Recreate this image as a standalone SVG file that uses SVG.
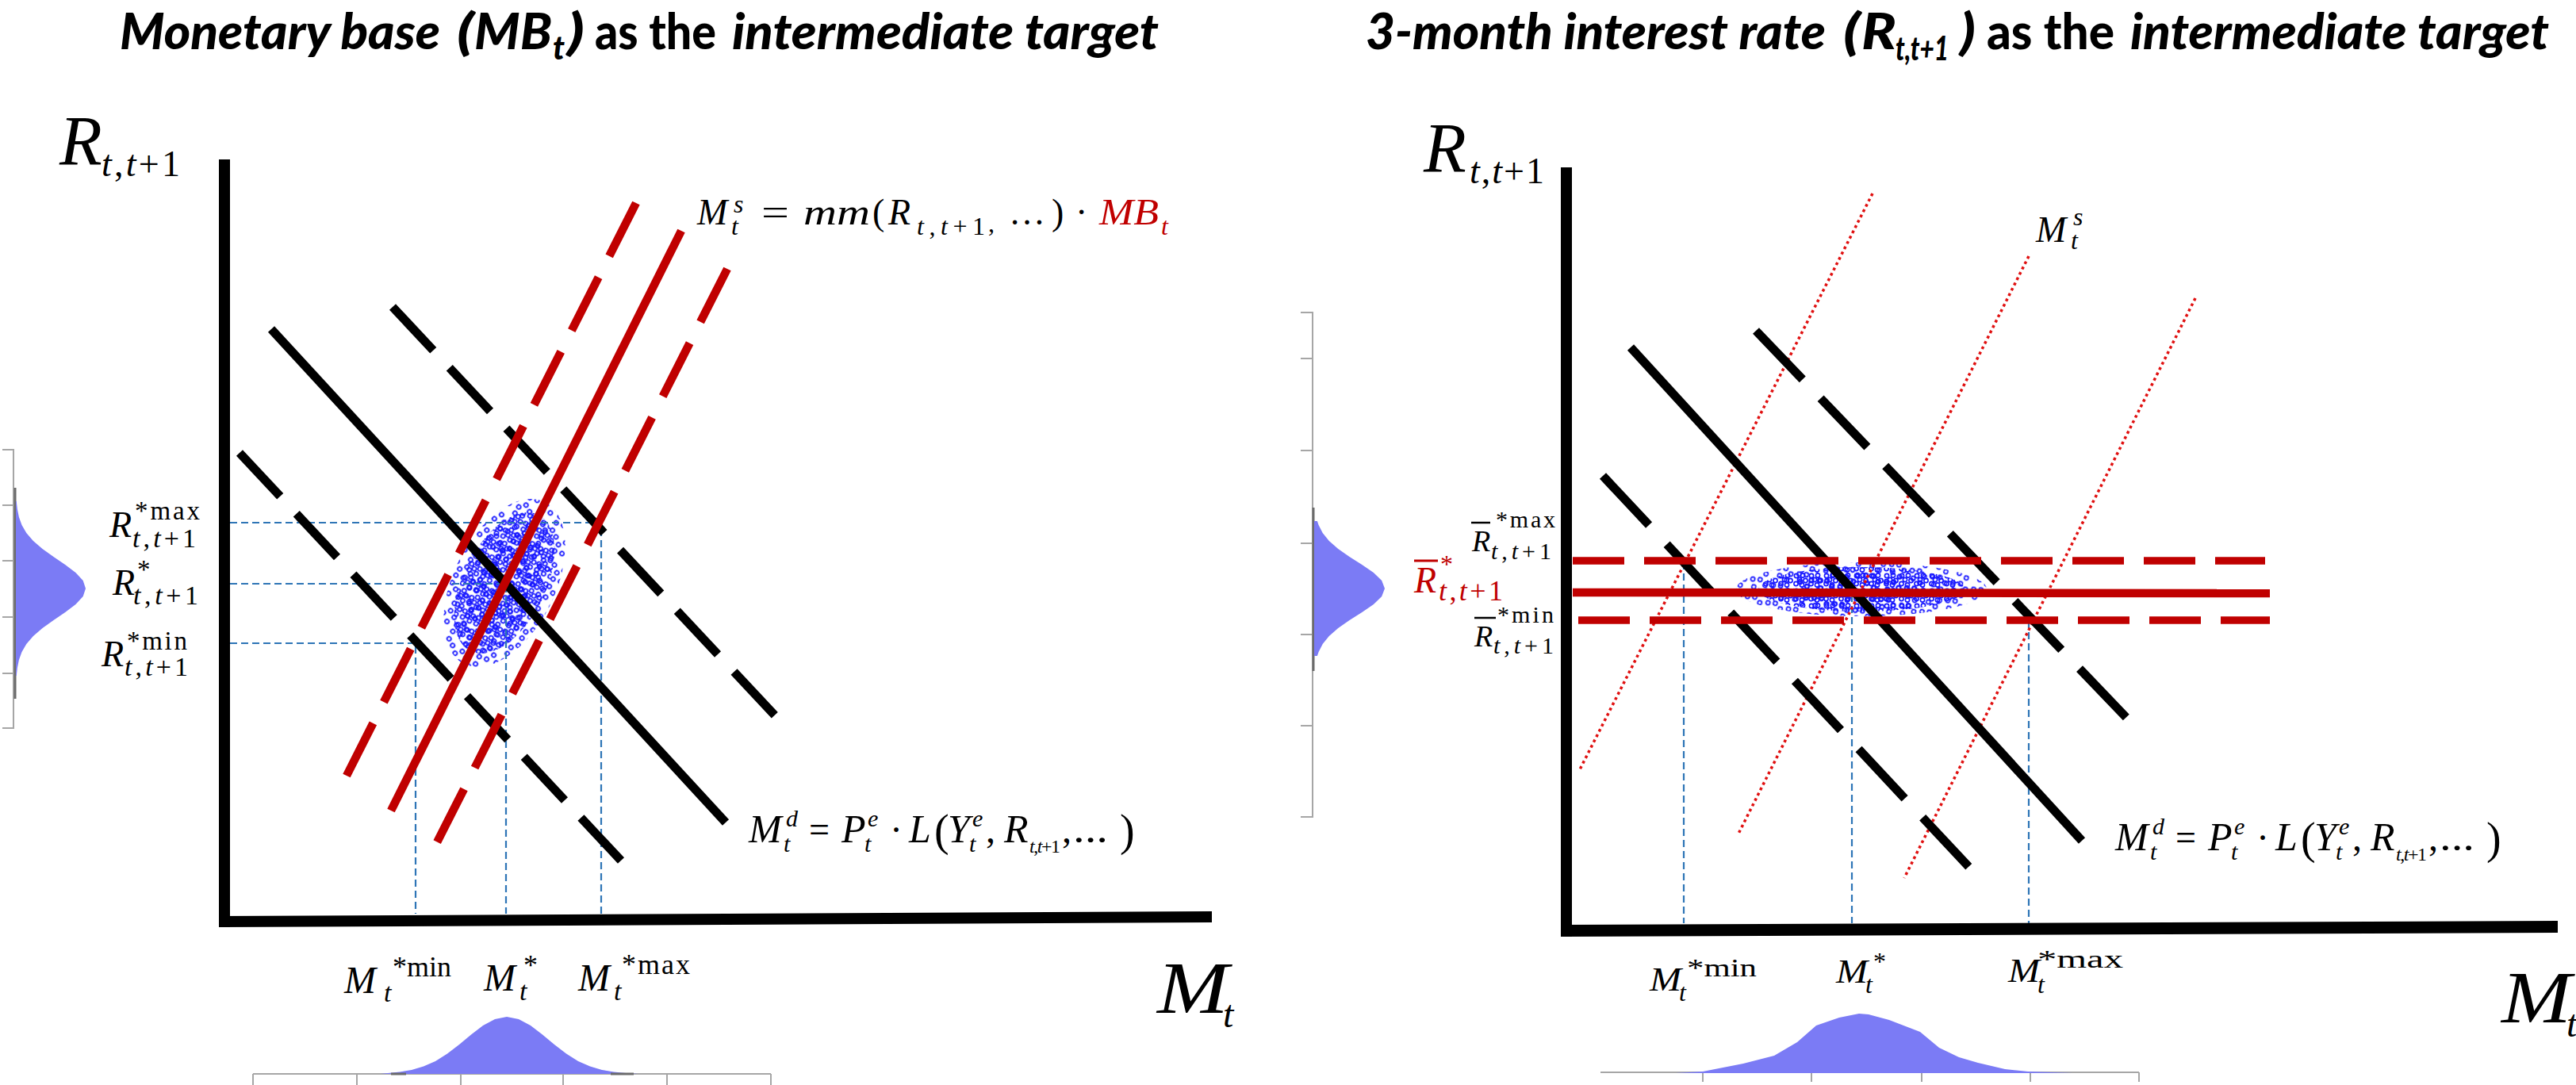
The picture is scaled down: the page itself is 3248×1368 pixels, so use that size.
<svg xmlns="http://www.w3.org/2000/svg" width="3248" height="1368" viewBox="0 0 3248 1368">
<defs>
<style>
.blk{stroke:#000;stroke-width:11;fill:none}
.dl{stroke-dasharray:75 30}
.dr{stroke-dasharray:85 33}
.red{stroke:#c00000;stroke-width:10.5;fill:none}
.hd{stroke-dasharray:65 25}
.dot{stroke:#e01010;stroke-width:3.5;stroke-dasharray:3.5 4;fill:none}
.guide{stroke:#2e75b6;stroke-width:2.2;stroke-dasharray:9 5;fill:none}
.dist{fill:#7b7bf5}
.gax{stroke:#a6a6a6;stroke-width:2;fill:none}
.gdk{stroke:#6b6b6b;stroke-width:3;fill:none}
.ser{font-family:"Liberation Serif","Times New Roman",serif;fill:#000}
.it{font-style:italic}
.rd{fill:#c00000}
.ttl{font-family:Lato,"Open Sans",sans-serif;font-weight:900;font-size:63px;fill:#000}
.sub{font-size:42px}
</style>
<pattern id="dotA" width="19" height="19" patternUnits="userSpaceOnUse">
<g fill="none" stroke="#1515ff" stroke-width="1.6">
<circle cx="4" cy="4" r="2.6"/><circle cx="12" cy="3.5" r="2.6"/><circle cx="15.5" cy="10" r="2.6"/>
<circle cx="8" cy="9" r="2.6"/><circle cx="3.5" cy="14" r="2.6"/><circle cx="11" cy="15.5" r="2.6"/>
</g>
</pattern>
<pattern id="dotB" width="27" height="23" patternUnits="userSpaceOnUse" patternTransform="rotate(17)">
<g fill="none" stroke="#1515ff" stroke-width="1.6">
<circle cx="5" cy="6" r="2.6"/><circle cx="14" cy="4" r="2.6"/><circle cx="22" cy="9" r="2.6"/>
<circle cx="9" cy="15" r="2.6"/><circle cx="19" cy="18" r="2.6"/>
</g>
</pattern>
</defs>
<rect width="3248" height="1368" fill="#fff"/>

<!-- ========== TITLES ========== -->
<g id="title-left">
<text class="ttl it" x="151" y="62" textLength="404" lengthAdjust="spacingAndGlyphs">Monetary base</text>
<text class="ttl it" x="576" y="62" textLength="22" lengthAdjust="spacingAndGlyphs">(</text>
<text class="ttl it" x="598" y="62" textLength="98" lengthAdjust="spacingAndGlyphs">MB</text>
<text class="ttl it sub" x="697" y="75" textLength="15" lengthAdjust="spacingAndGlyphs">t</text>
<text class="ttl it" x="715" y="62" textLength="22" lengthAdjust="spacingAndGlyphs">)</text>
<text class="ttl" x="750" y="62" textLength="153" lengthAdjust="spacingAndGlyphs">as the</text>
<text class="ttl it" x="923" y="62" textLength="538" lengthAdjust="spacingAndGlyphs">intermediate target</text>
</g>
<g id="title-right">
<text class="ttl it" x="1722" y="62" textLength="580" lengthAdjust="spacingAndGlyphs">3-month interest rate</text>
<text class="ttl it" x="2324" y="62" textLength="22" lengthAdjust="spacingAndGlyphs">(</text>
<text class="ttl it" x="2347" y="62" textLength="44" lengthAdjust="spacingAndGlyphs">R</text>
<text class="ttl it sub" x="2390" y="76" textLength="67" lengthAdjust="spacingAndGlyphs">t,t+1</text>
<text class="ttl it" x="2471" y="62" textLength="20" lengthAdjust="spacingAndGlyphs">)</text>
<text class="ttl" x="2505" y="62" textLength="161" lengthAdjust="spacingAndGlyphs">as the</text>
<text class="ttl it" x="2686" y="62" textLength="528" lengthAdjust="spacingAndGlyphs">intermediate target</text>
</g>

<!-- ========== LEFT PANEL ========== -->
<g id="left-dist-r">
<path class="gax" d="M3,567 H17 V918 H3 M3,637 H17 M3,707 H17 M3,778 H17 M3,849 H17"/>
<path class="gdk" d="M19,615 V881"/>
<path class="dist" d="M20,632 L20.8,632 L21.9,642 L23.9,652 L27.5,662 L33.3,672 L41.9,682 L53.5,692 L67.5,702 L82.2,712 L95.4,722 L104.7,732 L108,742 L104.7,752 L95.4,762 L82.2,772 L67.5,782 L53.5,792 L41.9,802 L33.3,812 L27.5,822 L23.9,832 L21.9,842 L20.8,852 L20,852 Z"/>
</g>
<g id="left-dist-m">
<path class="gax" d="M319,1354 H972 M319,1354 V1368 M450,1354 V1368 M581,1354 V1368 M710,1354 V1368 M841,1354 V1368 M972,1354 V1368"/>
<path class="dist" d="M480,1354 L489,1352.9 L504,1351.5 L519,1349 L534,1344.6 L549,1337.9 L564,1328.6 L579,1317 L594,1304.5 L609,1293 L624,1284.9 L639,1282 L654,1284.9 L669,1293 L684,1304.5 L699,1317 L714,1328.6 L729,1337.9 L744,1344.6 L759,1349 L774,1351.5 L789,1352.9 L805,1354 Z"/>
<path class="gdk" d="M493,1354 H512 M770,1354 H799"/>
</g>

<g id="left-cloud" transform="rotate(-63.4 636 735)">
<ellipse cx="636" cy="735" rx="114" ry="64" fill="url(#dotB)"/>
<ellipse cx="636" cy="735" rx="96" ry="52" fill="url(#dotA)"/>
<ellipse cx="636" cy="735" rx="70" ry="38" fill="url(#dotB)"/>
</g>

<g id="left-guides">
<path class="guide" d="M290,659 H758 V1152 M290,736 H638 V1152 M290,811 H524 V1152"/>
</g>

<g id="left-demand">
<line class="blk" x1="342" y1="415" x2="915" y2="1037"/>
<line class="blk dl" x1="302" y1="571" x2="783" y2="1085"/>
<line class="blk dl" x1="495" y1="387" x2="978" y2="903"/>
</g>
<g id="left-supply">
<line class="red" x1="859" y1="291" x2="493" y2="1022"/>
<line class="red dl" x1="802" y1="256" x2="437" y2="978"/>
<line class="red dl" x1="917" y1="339" x2="551" y2="1062"/>
</g>

<g id="left-axes">
<rect x="276" y="201" width="14" height="968"/>
<polygon points="276,1155 1528,1149 1528,1163 276,1169"/>
</g>

<g id="left-ylabel">
<text class="ser it" x="75" y="207" font-size="88">R</text>
<text class="ser" x="128" y="222" font-size="46" textLength="99"><tspan class="it">t</tspan>,<tspan class="it">t</tspan>+1</text>
</g>
<g id="left-xlabel">
<text class="ser it" x="1459" y="1277" font-size="94" textLength="90" lengthAdjust="spacingAndGlyphs">M</text>
<text class="ser it" x="1542" y="1295" font-size="48">t</text>
</g>

<g id="left-ms-eq">
<text class="ser it" x="879" y="283" font-size="46">M</text>
<text class="ser it" x="925" y="268" font-size="32">s</text>
<text class="ser it" x="922" y="296" font-size="32">t</text>
<text class="ser" x="960" y="283" font-size="46" textLength="35" lengthAdjust="spacingAndGlyphs">=</text>
<text class="ser it" x="1013" y="283" font-size="46" textLength="84" lengthAdjust="spacingAndGlyphs">mm</text>
<text class="ser" x="1100" y="283" font-size="46">(</text>
<text class="ser it" x="1120" y="283" font-size="46">R</text>
<text class="ser" x="1156" y="296" font-size="32" textLength="86"><tspan class="it">t</tspan>,<tspan class="it">t</tspan>+1</text>
<text class="ser" x="1246" y="292" font-size="32">,</text>
<text class="ser" x="1272" y="283" font-size="46" textLength="51">…</text>
<text class="ser" x="1326" y="283" font-size="46">)</text>
<text class="ser" x="1356" y="283" font-size="46">·</text>
<text class="ser it rd" x="1386" y="283" font-size="46" textLength="75" lengthAdjust="spacingAndGlyphs">MB</text>
<text class="ser it rd" x="1464" y="296" font-size="32">t</text>
</g>

<g id="left-md-eq">
<text class="ser it" x="944" y="1062" font-size="50">M</text>
<text class="ser it" x="991" y="1042" font-size="30">d</text>
<text class="ser it" x="988" y="1074" font-size="30">t</text>
<text class="ser" x="1020" y="1062" font-size="48" textLength="26" lengthAdjust="spacingAndGlyphs">=</text>
<text class="ser it" x="1061" y="1062" font-size="50">P</text>
<text class="ser it" x="1094" y="1042" font-size="30">e</text>
<text class="ser it" x="1090" y="1074" font-size="30">t</text>
<text class="ser" x="1122" y="1062" font-size="48">·</text>
<text class="ser it" x="1146" y="1062" font-size="50">L</text>
<text class="ser" x="1178" y="1066" font-size="56">(</text>
<text class="ser it" x="1195" y="1062" font-size="50">Y</text>
<text class="ser it" x="1226" y="1042" font-size="30">e</text>
<text class="ser it" x="1222" y="1074" font-size="30">t</text>
<text class="ser" x="1243" y="1062" font-size="48">,</text>
<text class="ser it" x="1266" y="1062" font-size="50">R</text>
<text class="ser" x="1298" y="1075" font-size="24" textLength="39"><tspan class="it">t</tspan>,<tspan class="it">t</tspan>+1</text>
<text class="ser" x="1339" y="1062" font-size="48">,</text>
<text class="ser" x="1353" y="1062" font-size="48" textLength="44" lengthAdjust="spacingAndGlyphs">...</text>
<text class="ser" x="1412" y="1066" font-size="56">)</text>
</g>

<g id="left-rlabels">
<text class="ser it" x="138" y="677" font-size="46">R</text>
<text class="ser" x="170" y="655" font-size="33" textLength="82">*max</text>
<text class="ser" x="167" y="690" font-size="34" textLength="80"><tspan class="it">t</tspan>,<tspan class="it">t</tspan>+1</text>
<text class="ser it" x="142" y="750" font-size="46">R</text>
<text class="ser" x="173" y="729" font-size="33">*</text>
<text class="ser" x="168" y="762" font-size="34" textLength="82"><tspan class="it">t</tspan>,<tspan class="it">t</tspan>+1</text>
<text class="ser it" x="128" y="840" font-size="46">R</text>
<text class="ser" x="160" y="819" font-size="33" textLength="76">*min</text>
<text class="ser" x="157" y="852" font-size="34" textLength="80"><tspan class="it">t</tspan>,<tspan class="it">t</tspan>+1</text>
</g>
<g id="left-mlabels">
<text class="ser it" x="434" y="1252" font-size="48">M</text>
<text class="ser" x="495" y="1231" font-size="36" textLength="74">*min</text>
<text class="ser it" x="484" y="1263" font-size="34">t</text>
<text class="ser it" x="610" y="1249" font-size="48">M</text>
<text class="ser" x="660" y="1229" font-size="36">*</text>
<text class="ser it" x="655" y="1261" font-size="34">t</text>
<text class="ser it" x="729" y="1249" font-size="48">M</text>
<text class="ser" x="784" y="1228" font-size="36" textLength="86">*max</text>
<text class="ser it" x="774" y="1261" font-size="34">t</text>
</g>

<!-- ========== RIGHT PANEL ========== -->
<g id="right-dist-r">
<path class="gax" d="M1640,394 H1655 V1030 H1640 M1640,452 H1655 M1640,568 H1655 M1640,685 H1655 M1640,800 H1655 M1640,915 H1655"/>
<path class="gdk" d="M1656,640 V846"/>
<path class="dist" d="M1657,657 L1660.9,657 L1662.6,662 L1667.7,672 L1675.8,682 L1687.2,692 L1701.5,702 L1717.3,712 L1731.9,722 L1742.2,732 L1746,742 L1742.2,752 L1731.9,762 L1717.3,772 L1701.5,782 L1687.2,792 L1675.8,802 L1667.7,812 L1662.6,822 L1660.9,827 L1657,827 Z"/>
</g>
<g id="right-dist-m">
<path class="gax" d="M2018,1352 H2697 M2147,1352 V1364 M2284,1352 V1364 M2423,1352 V1364 M2560,1352 V1364 M2697,1352 V1364"/>
<path class="dist" d="M2113,1353 L2147,1351 L2198,1341 L2237,1331 L2266,1314 L2290,1293 L2319,1283 L2344,1278 L2356,1279 L2382,1286 L2421,1301 L2445,1321 L2470,1333 L2494,1340 L2528,1348 L2557,1351 L2613,1353 Z"/>
</g>

<g id="right-cloud">
<ellipse cx="2347" cy="743" rx="158" ry="34" fill="url(#dotB)"/>
<ellipse cx="2347" cy="743" rx="130" ry="28" fill="url(#dotA)"/>
<ellipse cx="2340" cy="743" rx="90" ry="22" fill="url(#dotB)"/>
</g>

<g id="right-guides">
<path class="guide" d="M2123,709 V1164 M2335,750 V1164 M2558,783 V1164"/>
</g>

<g id="right-supply-dotted">
<line class="dot" x1="2361" y1="244" x2="1991" y2="972"/>
<line class="dot" x1="2558" y1="323" x2="2191" y2="1053"/>
<line class="dot" x1="2768" y1="376" x2="2401" y2="1107"/>
</g>
<g id="right-demand">
<line class="blk" x1="2056" y1="438" x2="2625" y2="1060"/>
<line class="blk dr" x1="2021" y1="600" x2="2489" y2="1100"/>
<line class="blk dr" x1="2214" y1="417" x2="2687" y2="911"/>
</g>
<g id="right-target">
<line class="red hd" x1="1983" y1="707" x2="2856" y2="707" style="stroke-width:9.5"/>
<line class="red" x1="1983" y1="747" x2="2862" y2="748"/>
<line class="red hd" x1="1990" y1="782" x2="2862" y2="782" style="stroke-width:9.5"/>
</g>

<g id="right-axes">
<rect x="1968" y="211" width="14" height="970"/>
<polygon points="1968,1166 3225,1161 3225,1176 1968,1181"/>
</g>

<g id="right-ylabel">
<text class="ser it" x="1795" y="216" font-size="88">R</text>
<text class="ser" x="1853" y="231" font-size="46" textLength="94"><tspan class="it">t</tspan>,<tspan class="it">t</tspan>+1</text>
</g>
<g id="right-xlabel">
<text class="ser it" x="3154" y="1289" font-size="94" textLength="88" lengthAdjust="spacingAndGlyphs">M</text>
<text class="ser it" x="3236" y="1307" font-size="48">t</text>
</g>
<g id="right-ms-label">
<text class="ser it" x="2567" y="305" font-size="46">M</text>
<text class="ser it" x="2614" y="284" font-size="32">s</text>
<text class="ser it" x="2611" y="314" font-size="32">t</text>
</g>
<g id="right-md-eq" transform="translate(1723,10)">
<text class="ser it" x="944" y="1062" font-size="50">M</text>
<text class="ser it" x="991" y="1042" font-size="30">d</text>
<text class="ser it" x="988" y="1074" font-size="30">t</text>
<text class="ser" x="1020" y="1062" font-size="48" textLength="26" lengthAdjust="spacingAndGlyphs">=</text>
<text class="ser it" x="1061" y="1062" font-size="50">P</text>
<text class="ser it" x="1094" y="1042" font-size="30">e</text>
<text class="ser it" x="1090" y="1074" font-size="30">t</text>
<text class="ser" x="1122" y="1062" font-size="48">·</text>
<text class="ser it" x="1146" y="1062" font-size="50">L</text>
<text class="ser" x="1178" y="1066" font-size="56">(</text>
<text class="ser it" x="1195" y="1062" font-size="50">Y</text>
<text class="ser it" x="1226" y="1042" font-size="30">e</text>
<text class="ser it" x="1222" y="1074" font-size="30">t</text>
<text class="ser" x="1243" y="1062" font-size="48">,</text>
<text class="ser it" x="1266" y="1062" font-size="50">R</text>
<text class="ser" x="1298" y="1075" font-size="24" textLength="39"><tspan class="it">t</tspan>,<tspan class="it">t</tspan>+1</text>
<text class="ser" x="1339" y="1062" font-size="48">,</text>
<text class="ser" x="1353" y="1062" font-size="48" textLength="44" lengthAdjust="spacingAndGlyphs">...</text>
<text class="ser" x="1412" y="1066" font-size="56">)</text>
</g>

<g id="right-rlabels">
<line x1="1855" y1="659" x2="1879" y2="659" stroke="#000" stroke-width="2.5"/>
<text class="ser" x="1886" y="665" font-size="30" textLength="75">*max</text>
<text class="ser it" x="1856" y="695" font-size="38">R</text>
<text class="ser" x="1880" y="705" font-size="30" textLength="76"><tspan class="it">t</tspan>,<tspan class="it">t</tspan>+1</text>
<line x1="1783" y1="707" x2="1813" y2="707" stroke="#c00000" stroke-width="3"/>
<text class="ser rd" x="1816" y="722" font-size="32">*</text>
<text class="ser it rd" x="1783" y="747" font-size="46">R</text>
<text class="ser rd" x="1814" y="757" font-size="36" textLength="81"><tspan class="it">t</tspan>,<tspan class="it">t</tspan>+1</text>
<line x1="1859" y1="779" x2="1886" y2="779" stroke="#000" stroke-width="2.5"/>
<text class="ser" x="1888" y="785" font-size="30" textLength="71">*min</text>
<text class="ser it" x="1859" y="815" font-size="38">R</text>
<text class="ser" x="1883" y="824" font-size="30" textLength="76"><tspan class="it">t</tspan>,<tspan class="it">t</tspan>+1</text>
</g>
<g id="right-mlabels">
<text class="ser it" x="2080" y="1249" font-size="42" textLength="40" lengthAdjust="spacingAndGlyphs">M</text>
<text class="ser" x="2127" y="1231" font-size="32" textLength="88" lengthAdjust="spacingAndGlyphs">*min</text>
<text class="ser it" x="2117" y="1262" font-size="32">t</text>
<text class="ser it" x="2315" y="1239" font-size="42" textLength="40" lengthAdjust="spacingAndGlyphs">M</text>
<text class="ser" x="2362" y="1223" font-size="32">*</text>
<text class="ser it" x="2352" y="1252" font-size="32">t</text>
<text class="ser it" x="2532" y="1238" font-size="42" textLength="40" lengthAdjust="spacingAndGlyphs">M</text>
<text class="ser" x="2569" y="1220" font-size="32" textLength="108" lengthAdjust="spacingAndGlyphs">*max</text>
<text class="ser it" x="2569" y="1252" font-size="32">t</text>
</g>
</svg>
